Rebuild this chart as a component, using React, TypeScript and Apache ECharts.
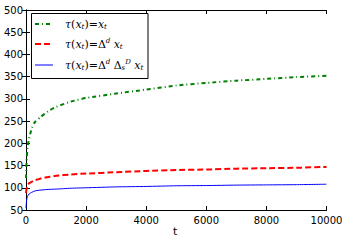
import React, { useEffect, useRef } from "react";
import * as echarts from "echarts";

const tValues = [0, 20, 50, 100, 200, 300, 500, 800, 1000, 1500, 2000, 3000, 4000, 5000, 6000, 7000, 8000, 9000, 10000];
const greenValues = [122, 160, 190, 210, 235, 248, 260, 275, 282, 294, 302, 312, 321, 330, 336, 341, 345, 349, 352];
const redValues = [88, 98, 104, 110, 114, 117, 121, 125, 127, 130, 132, 135, 138, 140, 141, 143, 144, 145, 147];
const blueValues = [54, 72, 80, 86, 90, 93, 95, 96.5, 97, 99, 100, 102, 103, 104.5, 105, 106, 106.5, 107, 108];
const xTicks = [0, 2000, 4000, 6000, 8000, 10000];
const yTicks = [50, 100, 150, 200, 250, 300, 350, 400, 450, 500];

const pair = (vals: number[]) => tValues.map((t, i) => [t, vals[i]]);

export default function App() {
  const ref = useRef<HTMLDivElement>(null);
  useEffect(() => {
    document.body.style.margin = "0";
    if (!ref.current) return;
    const chart = echarts.init(ref.current, null, { renderer: "svg" });
    const font = "DejaVu Sans";
    const axisLine = { show: true, lineStyle: { color: "#000", width: 1 } };
    const tick = { show: true, inside: true, length: 4, lineStyle: { color: "#000" } };
    const math = {
      m: { fontFamily: "DejaVu Serif", fontStyle: "italic", fontSize: 11, color: "#000" },
      n: { fontFamily: "DejaVu Serif", fontSize: 11, color: "#000" },
      s: { fontFamily: "DejaVu Serif", fontStyle: "italic", fontSize: 7, color: "#000", verticalAlign: "bottom", padding: [6, 0, 0, 0] },
      p: { fontFamily: "DejaVu Serif", fontStyle: "italic", fontSize: 7, color: "#000", verticalAlign: "top", padding: [0, 0, 6, 0] },
    };
    const legendRows = [
      { y: 24, color: "#008000", dash: [4, 3, 1, 3], width: 2, text: "{m|τ}{n|(}{m|x}{s|t}{n|)=}{m|x}{s|t}" },
      { y: 44, color: "#ff0000", dash: [6, 3], width: 2, text: "{m|τ}{n|(}{m|x}{s|t}{n|)=Δ}{p|d} {m|x}{s|t}" },
      { y: 65, color: "#0000ff", dash: null, width: 1, text: "{m|τ}{n|(}{m|x}{s|t}{n|)=Δ}{p|d} {n|Δ}{s|s}{p|D}{m| x}{s|t}" },
    ];
    const graphic: any[] = [
      { type: "rect", shape: { x: 31.5, y: 13.5, width: 116.5, height: 65 }, style: { fill: "#fff", stroke: "#000", lineWidth: 1 }, z: 100 },
    ];
    legendRows.forEach((r) => {
      graphic.push({
        type: "line",
        shape: { x1: 35, y1: r.y, x2: 53, y2: r.y },
        style: { stroke: r.color, lineWidth: r.width, lineDash: r.dash || undefined },
        z: 101,
      });
      graphic.push({
        type: "text",
        x: 65,
        y: r.y,
        style: { text: r.text, rich: math, verticalAlign: "middle", align: "left" },
        z: 101,
      });
    });
    graphic.push({
      type: "text",
      left: 173,
      top: 226,
      style: { text: "t", fontFamily: font, fontSize: 11, fill: "#000" },
    });
    chart.setOption({
      animation: false,
      grid: { left: 26, right: 19.5, top: 10, bottom: 33, containLabel: false },
      xAxis: [
        {
          type: "value", min: 0, max: 10000, interval: 2000,
          axisLine, axisTick: tick, splitLine: { show: false },
          axisLabel: { fontFamily: font, fontSize: 10, color: "#000", margin: 5, showMaxLabel: true, formatter: (v: number) => String(v) },
        },
        {
          type: "value", position: "top", min: 0, max: 10000, interval: 2000,
          axisLine, axisTick: tick, splitLine: { show: false }, axisLabel: { show: false },
        },
      ],
      yAxis: [
        {
          type: "value", min: 50, max: 500, interval: 50,
          axisLine, axisTick: tick, splitLine: { show: false },
          axisLabel: { fontFamily: font, fontSize: 10, color: "#000", margin: 3, formatter: (v: number) => String(v) },
        },
        {
          type: "value", position: "right", min: 50, max: 500, interval: 50,
          axisLine, axisTick: tick, splitLine: { show: false }, axisLabel: { show: false },
        },
      ],
      graphic,
      series: [
        {
          type: "line", data: pair(greenValues), showSymbol: false, smooth: 0.2,
          lineStyle: { color: "#008000", width: 2, type: [4, 3, 1, 3] }, z: 3,
        },
        {
          type: "line", data: pair(redValues), showSymbol: false, smooth: 0.2,
          lineStyle: { color: "#ff0000", width: 2, type: [6, 3] }, z: 3,
        },
        {
          type: "line", data: pair(blueValues), showSymbol: false, smooth: 0.2,
          lineStyle: { color: "#0000ff", width: 1 }, z: 3,
        },
      ],
    });
    return () => chart.dispose();
  }, []);
  return <div ref={ref} style={{ width: 346, height: 243 }} />;
}
